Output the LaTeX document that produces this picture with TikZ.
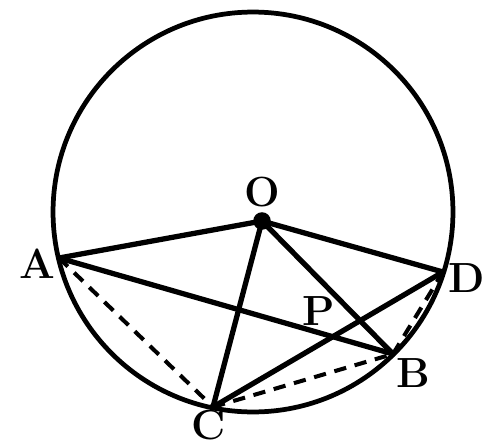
\documentclass[tikz,border=0pt]{standalone}
\usepackage{tikz}

\begin{document}
\begin{tikzpicture}
    [
        x=0.02cm, y=-0.02cm,
        circle_style/.style={draw=black, line width=2.7pt},
        edge_style/.style={draw=black, line width=3pt, line cap=round},
        dash_style/.style={draw=black, line width=2.3pt, dash pattern=on 7pt off 5pt},
        center_style/.style={circle, fill=black, inner sep=0pt, minimum size=10pt},
        label_style/.style={font=\fontsize{24}{28}\selectfont\bfseries, inner sep=0pt}
    ]
        \useasboundingbox (0,0) rectangle (487,447);

        \coordinate (ctr) at (253,212);
        \draw[circle_style] (ctr) circle [radius=4cm];

        \node[center_style] (vO) at (262,221) {};
        \coordinate (vA) at (59,258);
        \coordinate (vD) at (443,272);
        \coordinate (vB) at (393,354);
        \coordinate (vC) at (213,407);

        \draw[edge_style] (vO.center) -- (vA);
        \draw[edge_style] (vO.center) -- (vD);
        \draw[edge_style] (vO.center) -- (vC);
        \draw[edge_style] (vO.center) -- (vB);
        \draw[edge_style] (vA) -- (vB);
        \draw[edge_style] (vC) -- (vD);

        \draw[dash_style] (vA) -- (vC);
        \draw[dash_style] (vC) -- (vB);
        \draw[dash_style] (vB) -- (vD);

        \node[label_style] (lO) at (262,192) {O};
        \node[label_style] (lA) at (37,264) {A};
        \node[label_style] (lD) at (467,278) {D};
        \node[label_style] (lB) at (413,373) {B};
        \node[label_style] (lC) at (209,425) {C};
        \node[label_style] (lP) at (319,311) {P};
    \end{tikzpicture}
\end{document}
